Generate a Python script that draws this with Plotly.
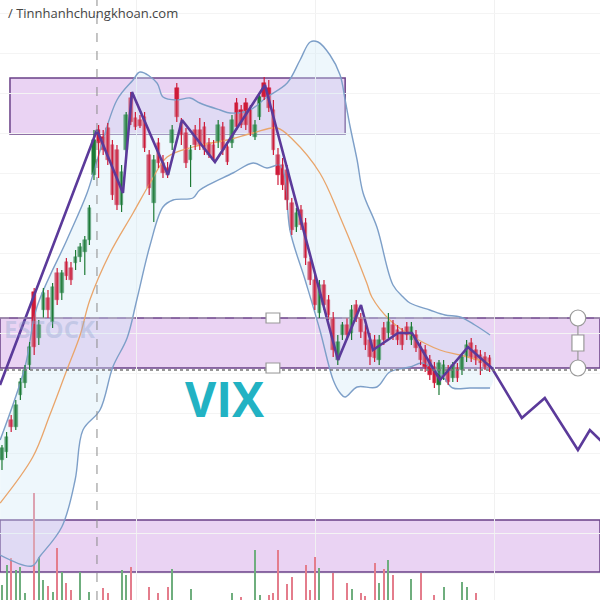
import plotly.graph_objects as go

# ---- candle data (price units) ----
opens = [140,148,180,173,205,217,235,308,262,290,302,278,327,307,338,332,337,343,348,360,
         425,470,463,472,455,450,395,450,502,482,480,483,445,397,457,437,432,457,512,477,
         467,440,470,470,473,457,455,458,473,453,457,497,490,497,490,463,483,517,512,490,
         445,435,430,397,373,390,377,338,320,287,315,300,282,240,265,275,267,295,282,268,
         260,260,240,272,267,275,270,268,273,260,265,253,250,240,233,215,225,230,222,232,
         230,243,257,250,245,243,242]
highs = [155,168,185,200,222,235,258,312,280,312,310,317,332,330,342,338,350,357,364,395,
         470,475,470,477,460,455,435,488,508,488,485,488,450,445,462,445,438,475,517,482,
         472,455,475,482,478,462,460,480,478,458,485,502,495,502,495,480,505,523,520,500,
         452,442,435,402,392,395,382,342,325,320,320,305,288,265,278,282,295,300,287,275,
         267,265,265,278,287,280,275,272,278,278,270,258,255,245,238,240,240,235,238,237,
         245,260,262,255,250,248,245]
lows = [130,142,168,170,200,212,230,245,255,282,282,272,295,300,320,315,330,338,325,355,
        420,422,445,435,400,390,388,445,475,470,472,448,405,378,432,422,422,450,478,455,
        432,413,450,450,445,442,438,452,445,435,452,470,472,470,464,460,480,500,488,445,
        415,410,390,365,368,370,335,315,290,282,290,280,243,235,260,260,260,278,262,250,
        235,238,235,255,262,260,255,250,260,255,248,235,228,220,212,205,220,215,218,218,
        225,238,238,235,225,230,228]
closes = [152,163,173,195,218,230,253,253,275,307,290,313,300,327,324,320,343,353,360,392,
          460,457,450,440,405,395,428,485,478,473,474,452,412,440,437,427,425,470,483,465,
          437,450,455,455,450,445,440,475,450,438,480,473,475,475,467,475,503,503,492,450,
          425,415,400,370,387,375,342,320,295,315,295,285,250,258,275,265,290,282,268,255,
          243,242,260,260,278,265,260,255,265,273,252,240,233,225,217,237,235,218,235,222,
          243,255,242,240,237,233,232]
volumes = [15,35,42,30,33,7,0,107,43,20, 14,8,52,28,17,10,0,28,0,8,
           0,0,12,7,0,0,30,25,33,0, 0,0,13,0,7,0,13,31,0,0,
           0,11,0,0,0,0,0,0,0,0, 7,0,3,0,0,50,5,0,5,7,
           50,0,16,23,0,0,35,10,43,32, 0,0,27,0,0,17,11,0,7,4,
           0,37,17,31,40,25,0,0,0,21, 0,27,0,0,5,0,13,0,0,0,
           18,13,0,7,0,0,0]
idx = list(range(len(opens)))

# ---- zigzag projection ----
zig_x = [-0.43,20.65,26.3,28.26,36.09,39.13,46.3,57.17,73.04,78.04,80.65,86.09,89.13,95.22,101.3,106.5,113.0,118.0,125.2,127.8,130.7]
zig_y = [215,470,407,508,425,480,438,515,240,295,250,267,267,220,253,232,182,202,150,170,157]

# ---- Bollinger bands ----
upper_x = [-0.4,5.0,7.6,14.1,18.5,20.7,25.0,28.5,30.0,33.7,35.0,38.0,40.9,43.0,47.4,49.6,53.9,57.6,62.0,64.8,
           67.0,68.7,71.3,73.5,74.6,75.7,77.2,78.5,81.5,85.0,87.2,88.7,93.0,96.3,99.6,102.8,106.1]
upper_y = [160,233,293,360,407,440,500,520,528,517,503,500,502,497,490,487,490,503,517,540,
           558,558,545,525,500,473,440,407,373,315,303,297,290,285,283,275,265]
lower_x = [-0.4,6.5,8.3,13.0,15.9,17.6,21.3,24.1,27.2,29.3,32.2,35.0,37.2,41.5,43.0,50.2,54.6,57.6,60.4,61.5,
           62.6,65.9,69.1,72.0,73.5,74.6,77.2,81.5,84.3,88.7,91.5,95.9,98.0,101.7,106.1]
lower_y = [45,34,44,73,120,170,190,233,262,300,355,393,400,402,410,427,437,432,435,423,
           370,320,270,220,207,203,213,213,228,233,237,223,212,212,212]
mid_x = [-0.4,6.7,10.4,14.1,17.0,19.1,23.5,28.5,32.2,35.9,41.5,48.9,54.6,59.8,63.3,69.1,73.5,79.3,80.4,84.3,88.7,95.2,99.6,106.1]
mid_y = [97,143,185,230,265,300,347,387,417,443,453,460,467,472,460,427,383,317,303,280,265,250,245,237]

# ---- zones ----
top_zone = (1.74, 74.6, 466, 522)
mid_zone = (232, 282)
low_zone = (28, 80)

RED = "#cf1b38"
GREEN = "#1d7a35"
PURPLE = "#5b3a9a"

fig = go.Figure()

# BB fill
fig.add_trace(go.Scatter(x=upper_x + lower_x[::-1], y=upper_y + lower_y[::-1], fill="toself",
                         fillcolor="rgba(205,232,246,0.35)", line=dict(width=0), mode="lines",
                         hoverinfo="skip", line_shape="spline"))
fig.add_trace(go.Scatter(x=upper_x, y=upper_y, mode="lines", line=dict(color="#7d9fc8", width=1.4),
                         line_shape="spline"))
fig.add_trace(go.Scatter(x=lower_x, y=lower_y, mode="lines", line=dict(color="#7d9fc8", width=1.4),
                         line_shape="spline"))
fig.add_trace(go.Scatter(x=mid_x, y=mid_y, mode="lines", line=dict(color="#e9a56b", width=1.3),
                         line_shape="spline"))

# volume
vol_colors = ["#e47d8c" if c < o else "#6fae7e" for o, c in zip(opens, closes)]
fig.add_trace(go.Bar(x=idx, y=volumes, marker=dict(color=vol_colors, line=dict(width=0)), width=0.45))

# candles: wicks + bodies
for up, col in ((True, GREEN), (False, RED)):
    wx, wy = [], []
    bx, bbase, bh = [], [], []
    for i, o, h, l, c in zip(idx, opens, highs, lows, closes):
        if (c >= o) != up:
            continue
        wx += [i, i, None]
        wy += [l, h, None]
        bx.append(i)
        bbase.append(min(o, c))
        bh.append(max(abs(c - o), 1.5))
    fig.add_trace(go.Scatter(x=wx, y=wy, mode="lines", line=dict(color=col, width=1.2)))
    fig.add_trace(go.Bar(x=bx, y=bh, base=bbase, width=0.8,
                         marker=dict(color=col, line=dict(color=col, width=0.5))))

# zigzag
fig.add_trace(go.Scatter(x=zig_x, y=zig_y, mode="lines", line=dict(color=PURPLE, width=2.6)))

shapes = []
fill = "rgba(185,110,215,0.30)"
shapes.append(dict(type="rect", x0=top_zone[0], x1=top_zone[1], y0=top_zone[2], y1=top_zone[3],
                   fillcolor=fill, line=dict(color="#6a4088", width=1.5), layer="below"))
shapes.append(dict(type="rect", xref="x domain", x0=0, x1=1, y0=mid_zone[0], y1=mid_zone[1],
                   fillcolor=fill, line=dict(color="#6a4088", width=1.5), layer="below"))
shapes.append(dict(type="rect", xref="x domain", x0=0, x1=1, y0=low_zone[0], y1=low_zone[1],
                   fillcolor=fill, line=dict(color="#6a4088", width=1.5), layer="below"))
shapes.append(dict(type="line", xref="x domain", x0=0, x1=1, y0=mid_zone[0] - 2, y1=mid_zone[0] - 2,
                   line=dict(color="#777", width=1.5, dash="dot")))
shapes.append(dict(type="line", xref="x domain", x0=0, x1=1, y0=mid_zone[1], y1=mid_zone[1],
                   line=dict(color="rgba(190,190,190,0.8)", width=1, dash="dash")))
shapes.append(dict(type="line", yref="y domain", x0=20.65, x1=20.65, y0=0, y1=1,
                   line=dict(color="#8a8a8a", width=1, dash="dash")))
# handles
hx = 125.2
shapes.append(dict(type="line", x0=hx, x1=hx, y0=mid_zone[0], y1=mid_zone[1], line=dict(color="#999", width=1.2)))
for yy in mid_zone:
    shapes.append(dict(type="circle", x0=hx - 1.7, x1=hx + 1.7, y0=yy - 8, y1=yy + 8,
                       fillcolor="white", line=dict(color="#999", width=1.2)))
    shapes.append(dict(type="rect", x0=58.9 - 1.5, x1=58.9 + 1.5, y0=yy - 5, y1=yy + 5,
                       fillcolor="white", line=dict(color="#999", width=1.2)))
shapes.append(dict(type="rect", x0=hx - 1.3, x1=hx + 1.3, y0=257 - 8, y1=257 + 8,
                   fillcolor="white", line=dict(color="#999", width=1.2)))

annotations = [
    dict(x=48.5, y=202, text="<b>VIX</b>", showarrow=False,
         font=dict(family="Open Sans", size=48, color="#22b2c3")),
    dict(x=20.6, y=272, text="<b>ESTOCK</b>", showarrow=False, xanchor="right",
         font=dict(family="Open Sans", size=24, color="rgba(140,165,205,0.35)")),
    dict(xref="paper", yref="paper", x=0.01, y=0.978, text="/ Tinnhanhchungkhoan.com", showarrow=False,
         xanchor="left", yanchor="middle", font=dict(family="Open Sans", size=13, color="#444")),
]

fig.update_layout(
    width=600, height=600, margin=dict(l=0, r=0, t=0, b=0, pad=0, autoexpand=False),
    paper_bgcolor="white", plot_bgcolor="white", showlegend=False, barmode="overlay",
    shapes=shapes, annotations=annotations, bargap=0,
    xaxis=dict(range=[-0.43, 130.0], showticklabels=False, zeroline=False,
               showgrid=True, gridcolor="#f1f1f1", tick0=29.3, dtick=38.9),
    yaxis=dict(range=[0, 600], showticklabels=False, zeroline=False,
               showgrid=True, gridcolor="#f4f4f4", tick0=187, dtick=40),
)

fig.write_html("out.html", config={"displayModeBar": False},
               post_script="document.body.style.margin='0px';document.body.style.overflow='hidden';")
